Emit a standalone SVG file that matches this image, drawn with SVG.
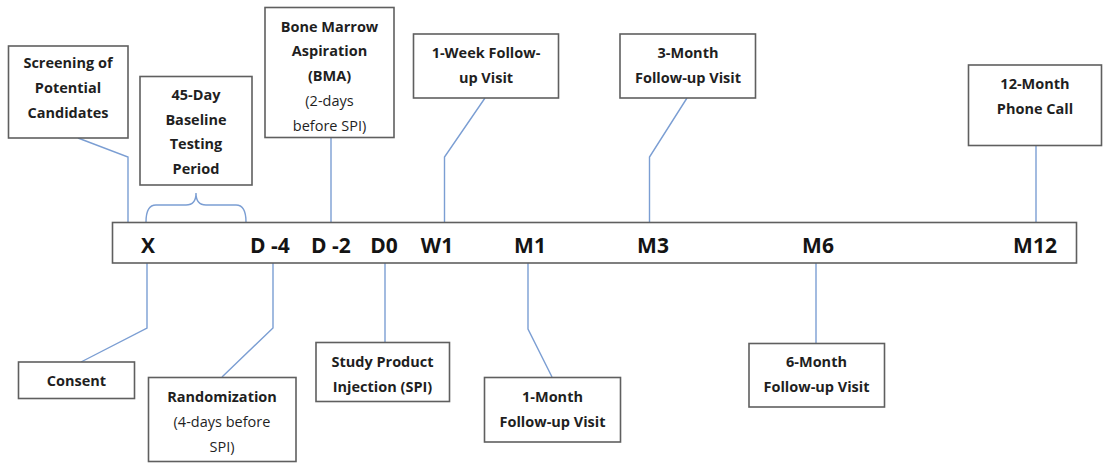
<svg xmlns="http://www.w3.org/2000/svg" width="1103" height="464" viewBox="0 0 1103 464">
<style>
.box{fill:#fff;stroke:#5f5f5f;stroke-width:1.6}
.t{font-family:"Open Sans","Liberation Sans",sans-serif;font-size:14.5px;font-weight:bold;fill:#1f1f1f;text-anchor:middle}
.r{font-weight:normal}
.tl{font-family:"Open Sans","Liberation Sans",sans-serif;font-size:21px;font-weight:bold;fill:#141414;text-anchor:middle}
.c{fill:none;stroke:#7b9ed3;stroke-width:1.4}
</style>
<rect width="1103" height="464" fill="#fff"/>
<g id="connectors">
<polyline class="c" points="78,138 128,157 128,222"/>
<path class="c" d="M146,222 Q146,205 156,205 L186,205 Q196,205 196,193 Q196,205 206,205 L236,205 Q246,205 246,222"/>
<line class="c" x1="331" y1="138" x2="331" y2="222"/>
<polyline class="c" points="485,98 444.5,157 444.5,222"/>
<polyline class="c" points="687,98 649.5,157 649.5,222"/>
<line class="c" x1="1036" y1="146" x2="1036" y2="222"/>
<polyline class="c" points="147,263 147,328 81,362"/>
<polyline class="c" points="273,263 273,328 222,377"/>
<line class="c" x1="385" y1="263" x2="385" y2="342"/>
<polyline class="c" points="528,263 528,329 552,377"/>
<line class="c" x1="816" y1="263" x2="816" y2="343"/>
</g>
<g id="timeline">
<rect class="box" x="112.5" y="222.5" width="964" height="40.5"/>
<text class="tl" x="148" y="253">X</text>
<text class="tl" x="270" y="253">D -4</text>
<text class="tl" x="331" y="253">D -2</text>
<text class="tl" x="384" y="253">D0</text>
<text class="tl" x="437" y="253">W1</text>
<text class="tl" x="530" y="253">M1</text>
<text class="tl" x="653" y="253">M3</text>
<text class="tl" x="818" y="253">M6</text>
<text class="tl" x="1035" y="253">M12</text>
</g>
<g id="screening">
<rect class="box" x="8.5" y="46" width="119.5" height="92"/>
<text class="t" x="68" y="68">Screening of</text>
<text class="t" x="68" y="93">Potential</text>
<text class="t" x="68" y="118">Candidates</text>
</g>
<g id="baseline">
<rect class="box" x="140" y="76.5" width="112" height="108.5"/>
<text class="t" x="196" y="100">45-Day</text>
<text class="t" x="196" y="124.5">Baseline</text>
<text class="t" x="196" y="149">Testing</text>
<text class="t" x="196" y="174">Period</text>
</g>
<g id="bma">
<rect class="box" x="265" y="7.5" width="129" height="130"/>
<text class="t" x="329.5" y="31.5">Bone Marrow</text>
<text class="t" x="329.5" y="56">Aspiration</text>
<text class="t" x="329.5" y="81">(BMA)</text>
<text class="t r" x="329.5" y="106">(2-days</text>
<text class="t r" x="329.5" y="131">before SPI)</text>
</g>
<g id="week1">
<rect class="box" x="413.5" y="34" width="145" height="64"/>
<text class="t" x="486" y="58">1-Week Follow-</text>
<text class="t" x="486" y="82.5">up Visit</text>
</g>
<g id="month3">
<rect class="box" x="620" y="34" width="135.5" height="64"/>
<text class="t" x="688" y="58">3-Month</text>
<text class="t" x="688" y="82.5">Follow-up Visit</text>
</g>
<g id="month12">
<rect class="box" x="968.5" y="65" width="133" height="80.5"/>
<text class="t" x="1035" y="89">12-Month</text>
<text class="t" x="1035" y="113.5">Phone Call</text>
</g>
<g id="consent">
<rect class="box" x="18.5" y="362" width="116" height="36.5"/>
<text class="t" x="76.5" y="385.5">Consent</text>
</g>
<g id="randomization">
<rect class="box" x="148.5" y="377.5" width="147.5" height="84"/>
<text class="t" x="222" y="401.5">Randomization</text>
<text class="t r" x="222" y="426.5">(4-days before</text>
<text class="t r" x="222" y="451.5">SPI)</text>
</g>
<g id="spi">
<rect class="box" x="316" y="342.5" width="133.5" height="59"/>
<text class="t" x="382.5" y="366.5">Study Product</text>
<text class="t" x="382.5" y="391.5">Injection (SPI)</text>
</g>
<g id="month1">
<rect class="box" x="484.5" y="377.5" width="136" height="64.5"/>
<text class="t" x="552.5" y="401.5">1-Month</text>
<text class="t" x="552.5" y="426.5">Follow-up Visit</text>
</g>
<g id="month6">
<rect class="box" x="749" y="343.5" width="135.5" height="63.5"/>
<text class="t" x="816.5" y="366.5">6-Month</text>
<text class="t" x="816.5" y="391.5">Follow-up Visit</text>
</g>
</svg>
